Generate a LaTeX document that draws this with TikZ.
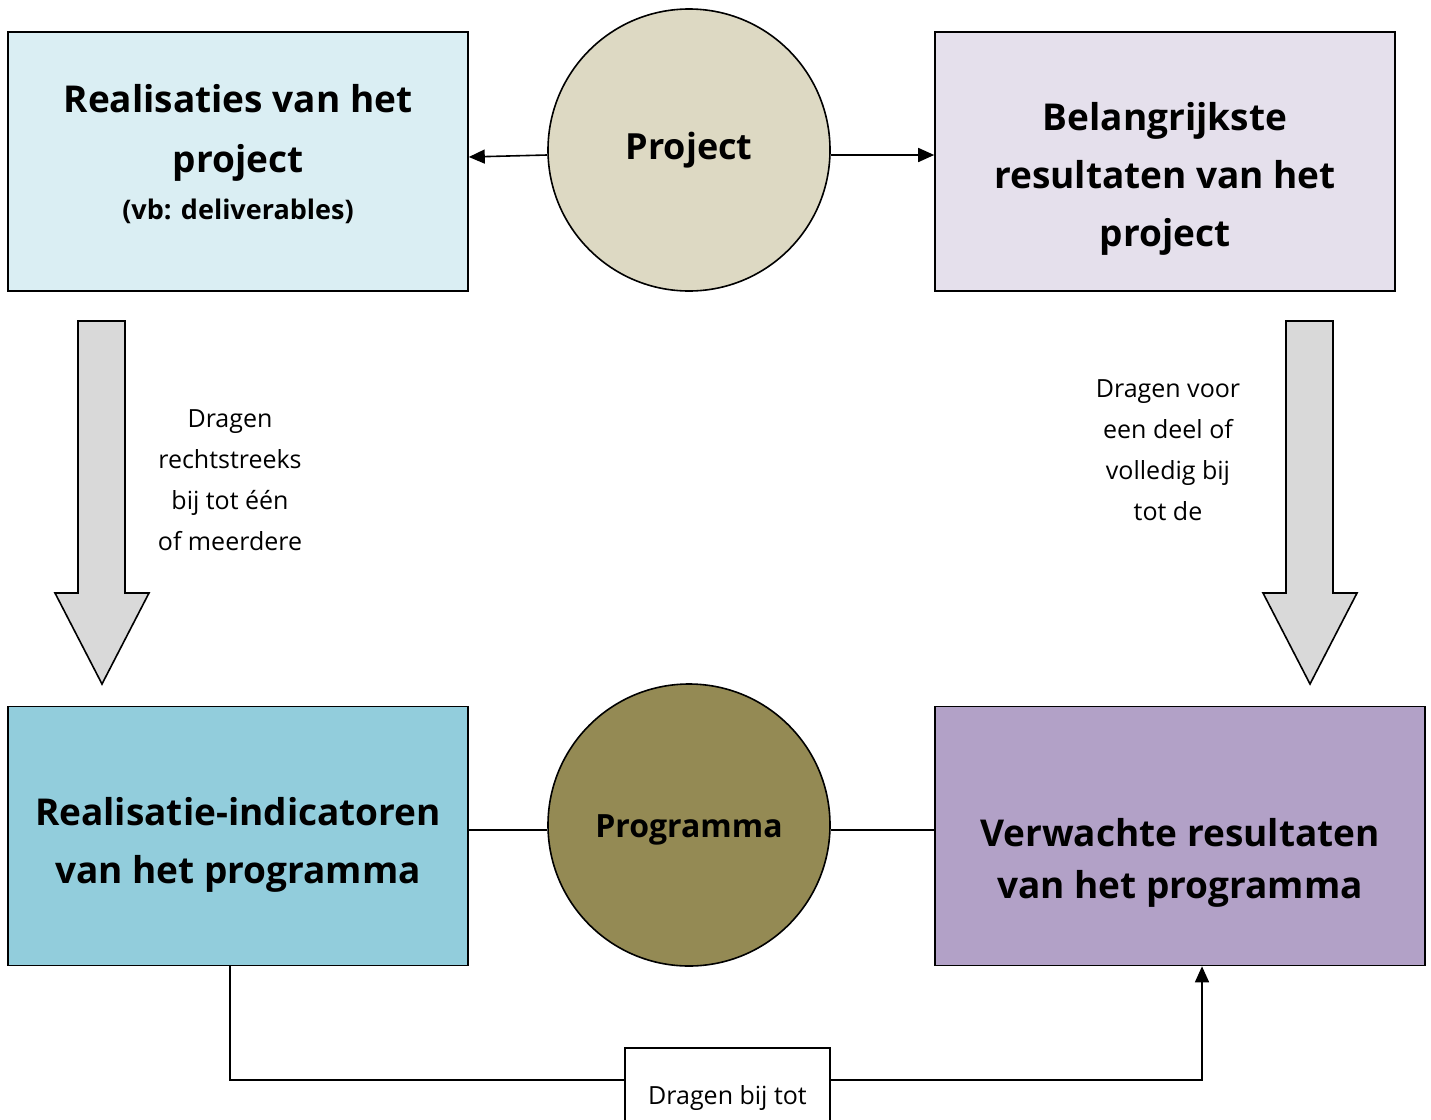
\documentclass[tikz,border=0pt]{standalone}
\usepackage{fontspec}
\setmainfont{Open Sans}
\usetikzlibrary{arrows.meta}
\definecolor{realblue}{HTML}{DAEEF3}
\definecolor{indblue}{HTML}{92CDDC}
\definecolor{reslila}{HTML}{E5E0EC}
\definecolor{verwlila}{HTML}{B2A1C7}
\definecolor{projkhaki}{HTML}{DDD9C3}
\definecolor{progolive}{HTML}{948A54}
\definecolor{pijlgrijs}{HTML}{D9D9D9}
\tikzset{
  blok/.style={draw, line width=1.6pt, minimum height=259pt, minimum width=460pt,
    align=center, font=\bfseries\fontsize{37}{58}\selectfont},
  cirkel/.style={draw, circle, line width=1.6pt, minimum size=282pt, inner sep=0pt,
    align=center, font=\bfseries\fontsize{36}{44}\selectfont},
  uitleg/.style={align=center, font=\fontsize{25}{41}\selectfont},
  verbind/.style={line width=1.6pt, -{Triangle[length=16pt,width=14pt]}},
  lijn/.style={line width=1.6pt},
  dikpijl/.style={draw, line width=1.6pt, fill=pijlgrijs, line join=miter}
}
\begin{document}
\begin{tikzpicture}[x=1pt, y=-1pt]
\useasboundingbox (0,0) rectangle (1431,1119);
\node[blok, fill=realblue] (real) at (238,161.5)
  {Realisaties van het\\[2pt]project\\[-11pt]{\fontsize{27}{40}\selectfont (vb: deliverables)}\\[-38pt]\mbox{}};
\node[blok, fill=reslila] (belang) at (1165,161.5)
  {\\[4pt]Belangrijkste\\resultaten van het\\project};
\node[cirkel, fill=projkhaki] (proj) at (689,150) {Project};
\node[blok, fill=indblue] (ind) at (238,836)
  {\\[-12pt]Realisatie-indicatoren\\van het programma};
\node[blok, fill=verwlila, minimum width=490pt, font=\bfseries\fontsize{37}{52}\selectfont] (verw) at (1180,836)
  {\\[30pt]Verwachte resultaten\\van het programma};
\node[cirkel, fill=progolive, font=\bfseries\fontsize{32}{40}\selectfont] (prog) at (689,825)
  {\\[-8pt]Programma};

\draw[verbind] (proj.west |- 0,155) -- (real.east |- 0,157);
\draw[verbind] (proj.east |- 0,155) -- (belang.west |- 0,155);
\draw[lijn] (ind.east |- 0,830) -- (prog.west |- 0,830);
\draw[lijn] (prog.east |- 0,830) -- (verw.west |- 0,830);

\foreach \x in {102,1310}
  \draw[dikpijl] ({\x-24},321) -- ({\x+23},321) -- ({\x+23},593) -- ({\x+47},593)
    -- (\x,684) -- ({\x-47},593) -- ({\x-24},593) -- cycle;

\node[uitleg] (links) at (230,480) {Dragen\\rechtstreeks\\bij tot één\\of meerdere};
\node[uitleg] (rechts) at (1168,450) {Dragen voor\\een deel of\\volledig bij\\tot de};

\node[draw, line width=1.6pt, anchor=north, minimum width=205pt, minimum height=100pt,
  font=\fontsize{25}{30}\selectfont, text height=19pt, text depth=6pt, inner ysep=36pt]
  (draagt) at (727.5,1047) {Dragen bij tot};
\coordinate (hl) at (230,1080);
\coordinate (hr) at (1202,1080);
\draw[lijn] (ind.south -| hl) -- (hl) -- (hl -| draagt.west);
\draw[verbind] (hr -| draagt.east) -- (hr) -- (verw.south -| hr);
\end{tikzpicture}
\end{document}
